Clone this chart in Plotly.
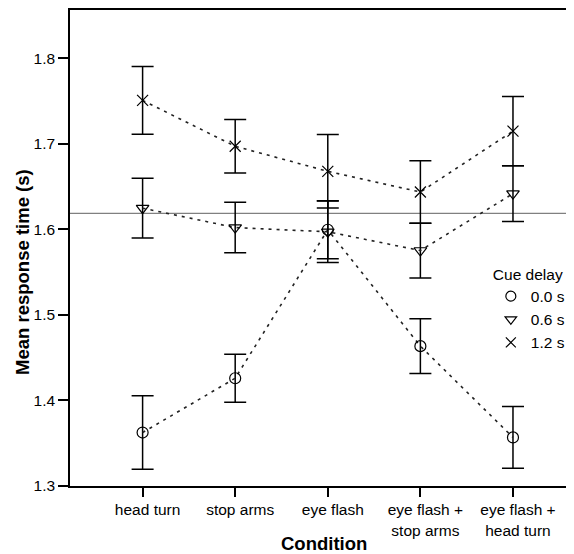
import plotly.graph_objects as go

conditions = ["head turn", "stop arms", "eye flash", "eye flash +<br>stop arms", "eye flash +<br>head turn"]
delays = ["0.0 s", "0.6 s", "1.2 s"]

mean_00 = [1.3625, 1.426, 1.5996, 1.4635, 1.3568]
err_00 = [0.043, 0.028, 0.034, 0.032, 0.036]
mean_06 = [1.6248, 1.6021, 1.5972, 1.5753, 1.6418]
err_06 = [0.035, 0.0295, 0.036, 0.032, 0.0325]
mean_12 = [1.7508, 1.6972, 1.6679, 1.6437, 1.7149]
err_12 = [0.0396, 0.0314, 0.043, 0.0366, 0.0405]
reference_line = 1.6187

y_ticks = [1.3, 1.4, 1.5, 1.6, 1.7, 1.8]

means = [mean_00, mean_06, mean_12]
errs = [err_00, err_06, err_12]
symbols = ["circle-open", "triangle-down-open", "x-thin-open"]

font_family = "Arial, Liberation Sans, sans-serif"
fig = go.Figure()
xs = list(range(len(conditions)))

fig.add_shape(type="line", xref="paper", x0=0, x1=1, yref="y", y0=reference_line, y1=reference_line,
              line=dict(color="#808080", width=1.2), layer="below")

for m, e, s in zip(means, errs, symbols):
    fig.add_trace(go.Scatter(
        x=xs, y=m, mode="lines+markers", showlegend=False,
        line=dict(color="#222222", width=1.6, dash="3px,5px"),
        marker=dict(symbol=s, size=11, color="black", line=dict(color="black", width=1.2)),
        error_y=dict(type="data", array=e, visible=True, color="black", thickness=1.5, width=11),
        cliponaxis=False,
    ))

for d, s in zip(delays, symbols):
    fig.add_trace(go.Scatter(
        x=[None], y=[None], mode="markers", name=d,
        marker=dict(symbol=s, size=10, color="black", line=dict(color="black", width=1.2)),
    ))

fig.add_annotation(text="<b>Mean response time (s)</b>", textangle=-90,
                   xref="paper", yref="paper", x=-0.0942, y=0.4487,
                   xanchor="center", yanchor="middle", showarrow=False,
                   font=dict(size=18.5))
fig.add_annotation(text="<b>Condition</b>",
                   xref="paper", yref="paper", x=0.504, y=-0.1213,
                   xanchor="center", yanchor="middle", showarrow=False,
                   font=dict(size=18.5))

fig.update_layout(
    width=566, height=546,
    margin=dict(l=62, r=0, t=0, b=68, pad=0),
    paper_bgcolor="white", plot_bgcolor="white",
    font=dict(family=font_family, size=15.5, color="black"),
    showlegend=True,
    legend=dict(
        title=dict(text="Cue delay", font=dict(size=15.5)),
        x=0.835, xanchor="left", y=0.476, yanchor="top",
        bgcolor="rgba(0,0,0,0)", font=dict(size=15.5),
        itemwidth=30, tracegroupgap=0,
    ),
    xaxis=dict(
        range=[-0.784, 4.659], tickmode="array", tickvals=xs, ticktext=conditions,
        showline=True, linecolor="black", linewidth=1.6, mirror=True,
        ticks="outside", ticklen=9, tickwidth=1.5, tickcolor="black",
        showgrid=False, zeroline=False, ticklabelshift=5,
    ),
    yaxis=dict(
        range=[1.3, 1.8565], tickmode="array", tickvals=y_ticks,
        ticktext=[f"{v:.1f}" for v in y_ticks],
        showline=True, linecolor="black", linewidth=1.6,
        ticks="outside", ticklen=10, tickwidth=1.5, tickcolor="black",
        showgrid=False, zeroline=False,
    ),
)

fig.write_html("out.html")
